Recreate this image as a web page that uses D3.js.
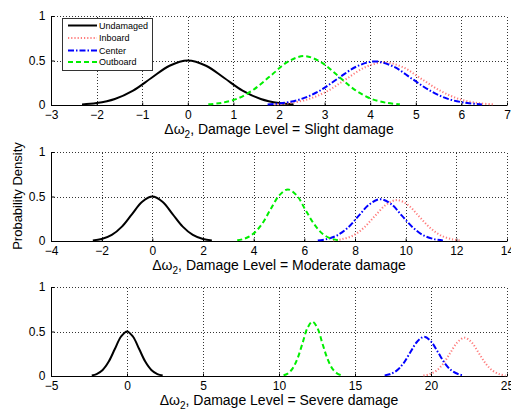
<!DOCTYPE html>
<html>
<head>
<meta charset="utf-8">
<script src="https://cdn.jsdelivr.net/npm/d3@7/dist/d3.min.js"></script>
<style>
  body { margin: 0; background: #fff; }
  svg { display: block; font-family: "Liberation Sans", Arial, Helvetica, sans-serif; }
  .tick text { font-size: 12px; fill: #000; }
  .domain { display: none; }
</style>
</head>
<body>
<svg width="511" height="410"></svg>
<script>
// panel settings
var panelLevels = ['Slight damage', 'Moderate damage', 'Severe damage'];
var xDomains = [[-3, 7], [-4, 14], [-5, 25]];
var xTicks = [
  [-3, -2, -1, 0, 1, 2, 3, 4, 5, 6, 7],
  [-4, -2, 0, 2, 4, 6, 8, 10, 12, 14],
  [-5, 0, 5, 10, 15, 20, 25]
];
var yTicks = [0, 0.5, 1];
var seriesNames = ['Undamaged', 'Inboard', 'Center', 'Outboard'];

// density curves, [x, y]
var slightUndamaged = [[-2.32, 0.007], [-2.0, 0.022], [-1.6, 0.068], [-1.2, 0.162], [-0.8, 0.303], [-0.4, 0.441], [0, 0.5], [0.4, 0.441], [0.8, 0.303], [1.2, 0.162], [1.6, 0.068], [2.0, 0.022], [2.32, 0.007]];
var slightInboard = [[1.9, 0.007], [2.23, 0.021], [2.64, 0.065], [3.06, 0.156], [3.47, 0.291], [3.89, 0.424], [4.3, 0.48], [4.72, 0.424], [5.13, 0.291], [5.55, 0.156], [5.96, 0.065], [6.38, 0.021], [6.7, 0.007]];
var slightCenter = [[1.75, 0.007], [2.08, 0.022], [2.48, 0.066], [2.89, 0.159], [3.29, 0.297], [3.7, 0.432], [4.1, 0.49], [4.51, 0.432], [4.91, 0.297], [5.32, 0.159], [5.72, 0.066], [6.13, 0.022], [6.45, 0.007]];
var slightOutboard = [[0.45, 0.008], [0.74, 0.024], [1.1, 0.074], [1.46, 0.179], [1.83, 0.334], [2.19, 0.485], [2.55, 0.55], [2.91, 0.485], [3.28, 0.334], [3.64, 0.179], [4.0, 0.074], [4.36, 0.024], [4.65, 0.008]];

var moderateUndamaged = [[-2.35, 0.007], [-2.0, 0.022], [-1.6, 0.068], [-1.2, 0.162], [-0.8, 0.303], [-0.4, 0.441], [0, 0.5], [0.4, 0.441], [0.8, 0.303], [1.2, 0.162], [1.6, 0.068], [2.0, 0.022], [2.35, 0.007]];
var moderateInboard = [[7.13, 0.007], [7.48, 0.02], [7.93, 0.062], [8.35, 0.149], [8.78, 0.279], [9.22, 0.406], [9.65, 0.46], [10.09, 0.406], [10.52, 0.279], [10.96, 0.149], [11.39, 0.062], [11.83, 0.02], [12.17, 0.007]];
var moderateCenter = [[6.53, 0.007], [6.88, 0.021], [7.3, 0.064], [7.73, 0.153], [8.15, 0.285], [8.58, 0.415], [9.0, 0.47], [9.43, 0.415], [9.85, 0.285], [10.28, 0.153], [10.7, 0.064], [11.13, 0.021], [11.47, 0.007]];
var moderateOutboard = [[3.35, 0.009], [3.63, 0.025], [3.97, 0.078], [4.32, 0.188], [4.66, 0.352], [5.01, 0.512], [5.35, 0.58], [5.7, 0.512], [6.04, 0.352], [6.39, 0.188], [6.73, 0.078], [7.08, 0.025], [7.35, 0.009]];

var severeUndamaged = [[-2.32, 0.007], [-2.0, 0.022], [-1.6, 0.068], [-1.2, 0.162], [-0.8, 0.303], [-0.4, 0.441], [0, 0.5], [0.4, 0.441], [0.8, 0.303], [1.2, 0.162], [1.6, 0.068], [2.0, 0.022], [2.35, 0.007]];
var severeInboard = [[19.5, 0.006], [19.88, 0.019], [20.34, 0.058], [20.81, 0.14], [21.27, 0.261], [21.74, 0.379], [22.2, 0.43], [22.67, 0.379], [23.13, 0.261], [23.6, 0.14], [24.07, 0.058], [24.53, 0.019], [24.9, 0.006]];
var severeCenter = [[16.95, 0.007], [17.28, 0.019], [17.74, 0.06], [18.19, 0.143], [18.64, 0.267], [19.1, 0.388], [19.55, 0.44], [20.0, 0.388], [20.46, 0.267], [20.91, 0.143], [21.36, 0.06], [21.82, 0.019], [22.15, 0.007]];
var severeOutboard = [[10.3, 0.009], [10.57, 0.027], [10.89, 0.083], [11.22, 0.198], [11.55, 0.37], [11.87, 0.538], [12.2, 0.61], [12.53, 0.538], [12.85, 0.37], [13.18, 0.198], [13.51, 0.083], [13.84, 0.027], [14.1, 0.009]];

var panelSeries = [
  [slightUndamaged, slightInboard, slightCenter, slightOutboard],
  [moderateUndamaged, moderateInboard, moderateCenter, moderateOutboard],
  [severeUndamaged, severeInboard, severeCenter, severeOutboard]
];

// line styles per series
var styles = [
  { color: '#000000', dash: null, width: 2 },
  { color: '#ff7b7b', dash: '1.2,2', width: 2 },
  { color: '#0000ff', dash: '6,2,1.5,2', width: 2 },
  { color: '#00ee00', dash: '5,3', width: 2 }
];

var svg = d3.select('svg');
var left = 51, right = 507;
var tops = [16, 152, 287];
var ph = 89;

panelSeries.forEach(function(series, p) {
  var top = tops[p];
  var bottom = top + ph;
  var x = d3.scaleLinear().domain(xDomains[p]).range([left, right]);
  var y = d3.scaleLinear().domain([0, 1]).range([bottom, top]);
  var g = svg.append('g').attr('class', 'panel' + p);

  // grid
  g.append('g').selectAll('line').data(xTicks[p].slice(1)).enter().append('line')
    .attr('x1', function(d) { return Math.round(x(d)) + 0.5; })
    .attr('x2', function(d) { return Math.round(x(d)) + 0.5; })
    .attr('y1', bottom).attr('y2', top)
    .attr('stroke', '#000').attr('stroke-width', 0.8).attr('stroke-dasharray', '1,2');
  g.append('g').selectAll('line').data(yTicks.slice(1)).enter().append('line')
    .attr('y1', function(d) { return Math.round(y(d)) + 0.5; })
    .attr('y2', function(d) { return Math.round(y(d)) + 0.5; })
    .attr('x1', left).attr('x2', right)
    .attr('stroke', '#000').attr('stroke-width', 0.8).attr('stroke-dasharray', '1,2');

  // axes
  g.append('g')
    .attr('transform', 'translate(0,' + (Math.round(bottom) + 0.5) + ')')
    .call(d3.axisBottom(x).tickValues(xTicks[p]).tickFormat(d3.format('d')).tickSizeInner(-3).tickSizeOuter(0).tickPadding(5));
  g.append('g')
    .attr('transform', 'translate(' + (left + 0.5) + ',0)')
    .call(d3.axisLeft(y).tickValues(yTicks).tickFormat(d3.format('')).tickSizeInner(-3).tickSizeOuter(0).tickPadding(6));
  g.append('line').attr('x1', left + 0.5).attr('x2', left + 0.5).attr('y1', top).attr('y2', Math.round(bottom) + 0.5)
    .attr('stroke', '#000').attr('stroke-width', 1);
  g.append('line').attr('x1', left).attr('x2', right).attr('y1', Math.round(bottom) + 0.5).attr('y2', Math.round(bottom) + 0.5)
    .attr('stroke', '#000').attr('stroke-width', 1);

  // curves
  var line = d3.line()
    .x(function(d) { return x(d[0]); })
    .y(function(d) { return y(d[1]); })
    .curve(d3.curveCatmullRom);
  series.forEach(function(s, i) {
    g.append('path')
      .datum(s)
      .attr('d', line)
      .attr('fill', 'none')
      .attr('stroke', styles[i].color)
      .attr('stroke-width', styles[i].width)
      .attr('stroke-dasharray', styles[i].dash);
  });

  // x label
  var lbl = g.append('text')
    .attr('x', (left + right) / 2)
    .attr('y', bottom + 29)
    .attr('text-anchor', 'middle')
    .attr('font-size', '14px');
  lbl.append('tspan').text('\u0394\u03c9');
  lbl.append('tspan').attr('font-size', '10px').attr('dy', 4).text('2');
  lbl.append('tspan').attr('dy', -4).text(', Damage Level = ' + panelLevels[p]);
});

// y label
svg.append('text')
  .attr('transform', 'translate(22,196)rotate(-90)')
  .attr('text-anchor', 'middle')
  .attr('font-size', '13px')
  .text('Probability Density');

// legend
var legend = svg.append('g').attr('class', 'legend');
legend.append('rect')
  .attr('x', 62.5).attr('y', 18.5).attr('width', 90).attr('height', 52)
  .attr('fill', '#fff').attr('stroke', '#333').attr('stroke-width', 1);
var legendY = [25.5, 38, 50.5, 62];
seriesNames.forEach(function(name, i) {
  legend.append('line')
    .attr('x1', 68).attr('x2', 97)
    .attr('y1', legendY[i]).attr('y2', legendY[i])
    .attr('stroke', styles[i].color)
    .attr('stroke-width', styles[i].width)
    .attr('stroke-dasharray', styles[i].dash);
  legend.append('text')
    .attr('x', 99).attr('y', legendY[i] + 3.2)
    .attr('font-size', '9px')
    .text(name);
});
</script>
</body>
</html>
